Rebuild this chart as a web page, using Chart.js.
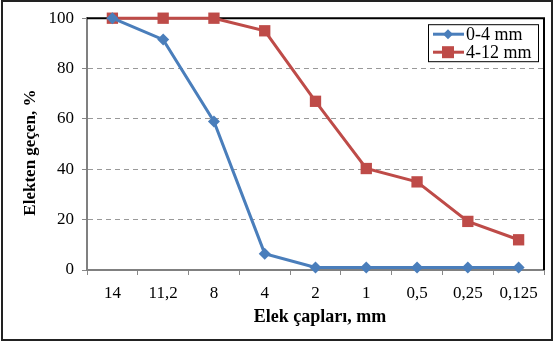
<!DOCTYPE html>
<html>
<head>
<meta charset="utf-8">
<script src="https://cdn.jsdelivr.net/npm/chart.js@4/dist/chart.umd.min.js"></script>
<style>
  html, body { margin: 0; padding: 0; background: #fff; }
  #wrap { width: 557px; height: 342px; }
</style>
</head>
<body>
<div id="wrap"><canvas id="sieveChart" width="557" height="342"></canvas></div>
<script>
// Sieve sizes (mm) and passing percentages
const sieveSizes = ['14', '11,2', '8', '4', '2', '1', '0,5', '0,25', '0,125'];
const passingFine = [100, 91.5, 59, 6.5, 1, 1, 1, 1, 1];          // 0-4 mm
const passingCoarse = [100, 100, 100, 95, 67, 40.3, 35, 19.3, 12]; // 4-12 mm
const seriesNames = ['0-4 mm', '4-12 mm'];
const yMin = 0, yMax = 100, yStep = 20;

const serif = '"Liberation Serif", "Times New Roman", serif';
const blue = '#4a7ebb';
const red = '#be4b48';

// frame around the whole figure + black top/right border of plot area
const framePlugin = {
  id: 'frame',
  beforeDatasetsDraw(chart) {
    const { ctx, chartArea: a } = chart;
    ctx.save();
    ctx.strokeStyle = '#000';
    ctx.lineWidth = 2;
    ctx.beginPath();
    ctx.moveTo(a.left, a.top);
    ctx.lineTo(a.right, a.top);
    ctx.lineTo(a.right, a.bottom);
    ctx.stroke();
    ctx.restore();
  },
  afterDraw(chart) {
    const ctx = chart.ctx;
    ctx.save();
    ctx.strokeStyle = '#222';
    ctx.lineWidth = 2;
    ctx.strokeRect(2, 1, 550, 339);
    ctx.restore();
  }
};

// boxed legend inside the plot, top right
const boxLegend = {
  id: 'boxLegend',
  afterDraw(chart) {
    const ctx = chart.ctx;
    const a = chart.chartArea;
    const x = a.right - 116, y = a.top + 6, w = 110, h = 37;
    ctx.save();
    ctx.fillStyle = '#fff';
    ctx.fillRect(x, y, w, h);
    ctx.strokeStyle = '#000';
    ctx.lineWidth = 1;
    ctx.strokeRect(x + 0.5, y + 0.5, w, h);
    ctx.font = '18px ' + serif;
    ctx.textBaseline = 'middle';
    chart.data.datasets.forEach((ds, i) => {
      const cy = y + 10 + i * 18;
      ctx.strokeStyle = ds.borderColor;
      ctx.lineWidth = 3;
      ctx.beginPath();
      ctx.moveTo(x + 5, cy);
      ctx.lineTo(x + 36, cy);
      ctx.stroke();
      ctx.fillStyle = ds.backgroundColor;
      const cx = x + 20;
      if (i === 0) {
        ctx.beginPath();
        ctx.moveTo(cx, cy - 5);
        ctx.lineTo(cx + 5, cy);
        ctx.lineTo(cx, cy + 5);
        ctx.lineTo(cx - 5, cy);
        ctx.closePath();
        ctx.fill();
      } else {
        ctx.fillRect(cx - 6, cy - 6, 12, 12);
      }
      ctx.fillStyle = '#000';
      ctx.fillText(ds.label, x + 38, cy + 1);
    });
    ctx.restore();
  }
};

const ctx = document.getElementById('sieveChart').getContext('2d');
const sieveChart = new Chart(ctx, {
  type: 'line',
  data: {
    labels: sieveSizes,
    datasets: [
      {
        label: seriesNames[0],
        data: passingFine,
        borderColor: blue,
        backgroundColor: blue,
        borderWidth: 3,
        pointStyle: 'rectRot',
        pointRadius: 6,
        pointBorderWidth: 0,
        tension: 0,
        clip: false
      },
      {
        label: seriesNames[1],
        data: passingCoarse,
        borderColor: red,
        backgroundColor: red,
        borderWidth: 3,
        pointStyle: 'rect',
        pointRadius: 8,
        pointBorderWidth: 0,
        tension: 0,
        clip: false
      }
    ]
  },
  options: {
    responsive: false,
    animation: false,
    layout: { padding: { left: 0, top: 18, right: 13, bottom: 0 } },
    plugins: {
      legend: { display: false },
      tooltip: { enabled: false }
    },
    scales: {
      x: {
        offset: true,
        afterFit(scale) { scale.height = 72; },
        grid: {
          offset: true,
          drawOnChartArea: false,
          drawTicks: true,
          tickLength: 5,
          tickColor: '#888'
        },
        border: { color: '#808080', width: 2 },
        ticks: {
          color: '#000',
          padding: 8,
          maxRotation: 0,
          font: { family: serif, size: 17 }
        },
        title: {
          display: true,
          // leading spaces nudge the centred title a little to the right
          text: '\u00a0\u00a0Elek çapları, mm',
          color: '#000',
          font: { family: serif, size: 18, weight: 'bold' },
          padding: { top: 0, bottom: 14 }
        }
      },
      y: {
        min: yMin,
        max: yMax,
        afterFit(scale) { scale.width = 87; },
        ticks: {
          stepSize: yStep,
          color: '#000',
          padding: 8,
          font: { family: serif, size: 17 }
        },
        grid: {
          color: '#999',
          lineWidth: 1,
          tickLength: 5,
          tickColor: '#888',
          tickBorderDash: [],
          tickWidth: 1
        },
        border: { color: '#808080', width: 2, dash: [5, 4] },
        title: {
          display: true,
          // trailing spaces push the rotated title slightly downwards
          text: 'Elekten geçen, %\u00a0\u00a0\u00a0\u00a0',
          color: '#000',
          font: { family: serif, size: 17, weight: 'bold' },
          padding: { top: 20, bottom: 0 }
        }
      }
    }
  },
  plugins: [framePlugin, boxLegend]
});
</script>
</body>
</html>
